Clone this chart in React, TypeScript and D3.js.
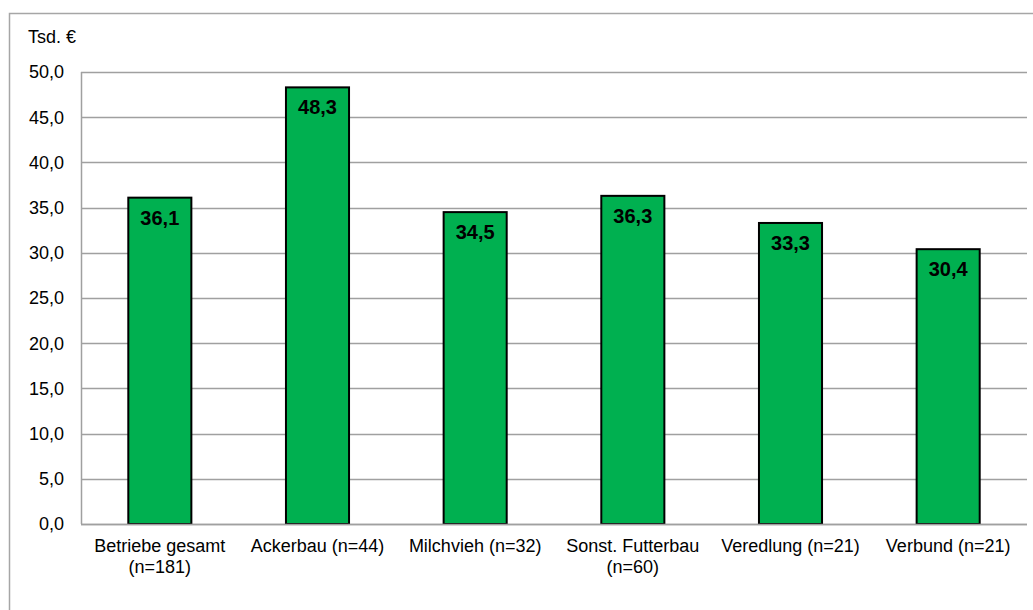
import React, { useEffect, useRef } from "react";
import * as d3 from "d3";

const categories = [
  ["Betriebe gesamt", "(n=181)"],
  ["Ackerbau (n=44)"],
  ["Milchvieh (n=32)"],
  ["Sonst. Futterbau", "(n=60)"],
  ["Veredlung (n=21)"],
  ["Verbund (n=21)"],
];
const values = [36.1, 48.3, 34.5, 36.3, 33.3, 30.4];
const yTicks = [0, 5, 10, 15, 20, 25, 30, 35, 40, 45, 50];
const unitLabel = "Tsd. €";

const fmt = (v: number) => v.toFixed(1).replace(".", ",");

const App: React.FC = () => {
  const ref = useRef<SVGSVGElement | null>(null);

  useEffect(() => {
    const el = ref.current;
    if (!el) return;
    const svg = d3.select(el);
    svg.selectAll("*").remove();

    const width = 1033;
    const height = 610;
    const plot = { left: 81, right: 1027, top: 72, bottom: 524 };
    const font = "'Liberation Sans', Arial, sans-serif";

    // outer frame
    svg
      .append("rect")
      .attr("x", 9.5)
      .attr("y", 13.5)
      .attr("width", width + 20)
      .attr("height", height + 20)
      .attr("fill", "white")
      .attr("stroke", "#a6a6a6")
      .attr("stroke-width", 1.5);

    const x = d3
      .scaleBand<number>()
      .domain(categories.map((_, i) => i))
      .range([plot.left, plot.right])
      .paddingInner(0.6)
      .paddingOuter(0.3);

    const y = d3.scaleLinear().domain([0, 50]).range([plot.bottom, plot.top]);

    // grid lines
    svg
      .append("g")
      .selectAll("line")
      .data(yTicks)
      .enter()
      .append("line")
      .attr("x1", plot.left)
      .attr("x2", plot.right)
      .attr("y1", (d) => Math.round(y(d)) + 0.5)
      .attr("y2", (d) => Math.round(y(d)) + 0.5)
      .attr("stroke", "#a0a0a0")
      .attr("stroke-width", 1.5);

    // left axis line
    svg
      .append("line")
      .attr("x1", plot.left + 0.5)
      .attr("x2", plot.left + 0.5)
      .attr("y1", plot.top)
      .attr("y2", plot.bottom)
      .attr("stroke", "#a0a0a0")
      .attr("stroke-width", 1.5);

    // tick labels
    svg
      .append("g")
      .selectAll("text")
      .data(yTicks)
      .enter()
      .append("text")
      .attr("x", 64)
      .attr("y", (d) => y(d))
      .attr("dy", "0.35em")
      .attr("text-anchor", "end")
      .style("font", `18px ${font}`)
      .text((d) => fmt(d));

    svg
      .append("text")
      .attr("x", 28)
      .attr("y", 43)
      .style("font", `18px ${font}`)
      .text(unitLabel);

    // bars
    svg
      .append("g")
      .selectAll("rect")
      .data(values)
      .enter()
      .append("rect")
      .attr("x", (_, i) => x(i)!)
      .attr("y", (d) => y(d))
      .attr("width", x.bandwidth())
      .attr("height", (d) => y(0) - y(d))
      .attr("fill", "#00b050")
      .attr("stroke", "#000")
      .attr("stroke-width", 2);

    // bottom axis line over bars
    svg
      .append("line")
      .attr("x1", plot.left)
      .attr("x2", plot.right)
      .attr("y1", plot.bottom + 0.5)
      .attr("y2", plot.bottom + 0.5)
      .attr("stroke", "#a0a0a0")
      .attr("stroke-width", 1.5);

    // value labels
    svg
      .append("g")
      .selectAll("text")
      .data(values)
      .enter()
      .append("text")
      .attr("x", (_, i) => x(i)! + x.bandwidth() / 2)
      .attr("y", (d) => y(d) + 27)
      .attr("text-anchor", "middle")
      .style("font", `bold 20px ${font}`)
      .text((d) => fmt(d));

    // category labels
    const cat = svg
      .append("g")
      .selectAll("text")
      .data(categories)
      .enter()
      .append("text")
      .attr("x", (_, i) => x(i)! + x.bandwidth() / 2)
      .attr("y", 552)
      .attr("text-anchor", "middle")
      .style("font", `18px ${font}`);
    cat
      .selectAll("tspan")
      .data((d) => d)
      .enter()
      .append("tspan")
      .attr("x", function () {
        return (this as SVGTSpanElement).parentElement!.getAttribute("x");
      })
      .attr("dy", (_, j) => (j === 0 ? 0 : 21))
      .text((d) => d);
  }, []);

  return (
    <svg
      ref={ref}
      width={1033}
      height={610}
      style={{ position: "absolute", left: 0, top: 0, display: "block" }}
    />
  );
};

export default App;
